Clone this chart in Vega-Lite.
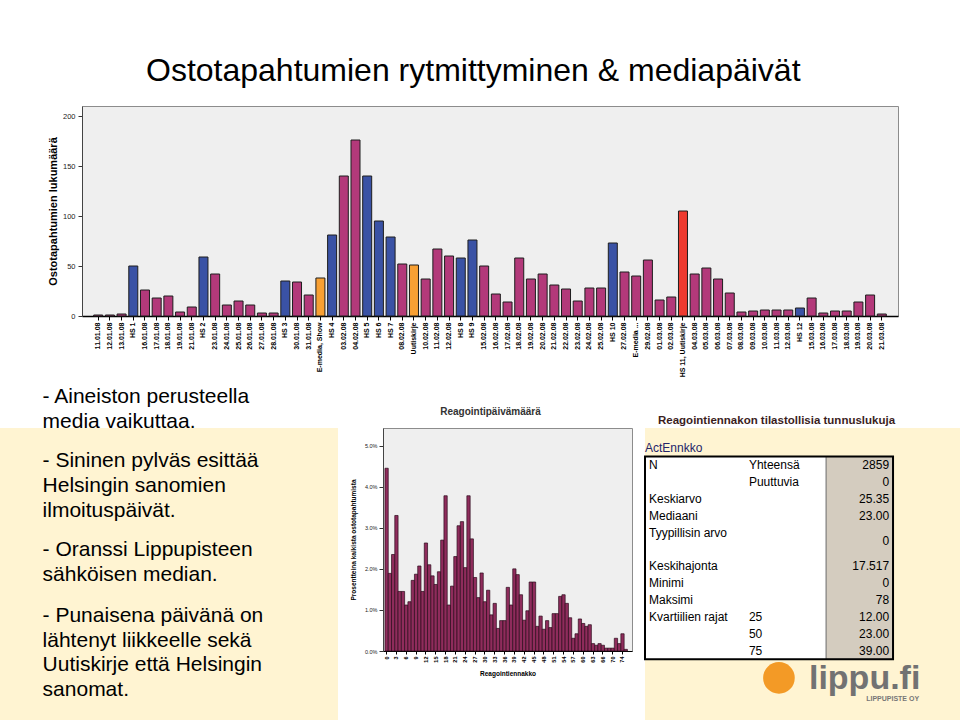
{
  "$schema": "https://vega.github.io/schema/vega-lite/v6.json",
  "background": "white",
  "padding": {"left": 0, "top": 54, "right": 0, "bottom": 0},
  "title": {"text": "Ostotapahtumien rytmittyminen & mediapäivät", "font": "Liberation Sans", "fontSize": 32, "fontWeight": "normal", "color": "#000000", "anchor": "start", "dx": 146, "offset": 18},
  "config": {"font": "Liberation Sans", "axis": {"grid": false}},
  "spacing": -34,
  "vconcat": [
    {
      "spacing": 45,
      "hconcat": [
        {
          "width": 1,
          "height": 1,
          "view": {"stroke": null},
          "data": {"values": []},
          "mark": {"type": "point", "opacity": 0},
          "encoding": {}
        },
        {
          "width": 816,
          "height": 210,
          "view": {"fill": "#efefef", "stroke": "#8c8c8c", "strokeWidth": 1},
          "data": {"values": [
            {"paiva": "11.01.08", "n": 1, "tyyppi": "Muu päivä"},
            {"paiva": "12.01.08", "n": 1, "tyyppi": "Muu päivä"},
            {"paiva": "13.01.08", "n": 2, "tyyppi": "Muu päivä"},
            {"paiva": "HS 1", "n": 50, "tyyppi": "Helsingin Sanomat"},
            {"paiva": "16.01.08", "n": 26, "tyyppi": "Muu päivä"},
            {"paiva": "17.01.08", "n": 18, "tyyppi": "Muu päivä"},
            {"paiva": "18.01.08", "n": 20, "tyyppi": "Muu päivä"},
            {"paiva": "19.01.08", "n": 4, "tyyppi": "Muu päivä"},
            {"paiva": "21.01.08", "n": 9, "tyyppi": "Muu päivä"},
            {"paiva": "HS 2", "n": 59, "tyyppi": "Helsingin Sanomat"},
            {"paiva": "23.01.08", "n": 42, "tyyppi": "Muu päivä"},
            {"paiva": "24.01.08", "n": 11, "tyyppi": "Muu päivä"},
            {"paiva": "25.01.08", "n": 15, "tyyppi": "Muu päivä"},
            {"paiva": "26.01.08", "n": 11, "tyyppi": "Muu päivä"},
            {"paiva": "27.01.08", "n": 3, "tyyppi": "Muu päivä"},
            {"paiva": "28.01.08", "n": 3, "tyyppi": "Muu päivä"},
            {"paiva": "HS 3", "n": 35, "tyyppi": "Helsingin Sanomat"},
            {"paiva": "30.01.08", "n": 34, "tyyppi": "Muu päivä"},
            {"paiva": "31.01.08", "n": 21, "tyyppi": "Muu päivä"},
            {"paiva": "E-media, Show", "n": 38, "tyyppi": "Lippupisteen sähköinen media"},
            {"paiva": "HS 4", "n": 81, "tyyppi": "Helsingin Sanomat"},
            {"paiva": "03.02.08", "n": 140, "tyyppi": "Muu päivä"},
            {"paiva": "04.02.08", "n": 176, "tyyppi": "Muu päivä"},
            {"paiva": "HS 5", "n": 140, "tyyppi": "Helsingin Sanomat"},
            {"paiva": "HS 6", "n": 95, "tyyppi": "Helsingin Sanomat"},
            {"paiva": "HS 7", "n": 79, "tyyppi": "Helsingin Sanomat"},
            {"paiva": "08.02.08", "n": 52, "tyyppi": "Muu päivä"},
            {"paiva": "Uutiskirje", "n": 51, "tyyppi": "Lippupisteen sähköinen media"},
            {"paiva": "10.02.08", "n": 37, "tyyppi": "Muu päivä"},
            {"paiva": "11.02.08", "n": 67, "tyyppi": "Muu päivä"},
            {"paiva": "12.02.08", "n": 60, "tyyppi": "Muu päivä"},
            {"paiva": "HS 8", "n": 58, "tyyppi": "Helsingin Sanomat"},
            {"paiva": "HS 9", "n": 76, "tyyppi": "Helsingin Sanomat"},
            {"paiva": "15.02.08", "n": 50, "tyyppi": "Muu päivä"},
            {"paiva": "16.02.08", "n": 22, "tyyppi": "Muu päivä"},
            {"paiva": "17.02.08", "n": 14, "tyyppi": "Muu päivä"},
            {"paiva": "18.02.08", "n": 58, "tyyppi": "Muu päivä"},
            {"paiva": "19.02.08", "n": 37, "tyyppi": "Muu päivä"},
            {"paiva": "20.02.08", "n": 42, "tyyppi": "Muu päivä"},
            {"paiva": "21.02.08", "n": 31, "tyyppi": "Muu päivä"},
            {"paiva": "22.02.08", "n": 27, "tyyppi": "Muu päivä"},
            {"paiva": "23.02.08", "n": 15, "tyyppi": "Muu päivä"},
            {"paiva": "24.02.08", "n": 28, "tyyppi": "Muu päivä"},
            {"paiva": "25.02.08", "n": 28, "tyyppi": "Muu päivä"},
            {"paiva": "HS 10", "n": 73, "tyyppi": "Helsingin Sanomat"},
            {"paiva": "27.02.08", "n": 44, "tyyppi": "Muu päivä"},
            {"paiva": "E-media ...", "n": 40, "tyyppi": "Muu päivä"},
            {"paiva": "29.02.08", "n": 56, "tyyppi": "Muu päivä"},
            {"paiva": "01.03.08", "n": 16, "tyyppi": "Muu päivä"},
            {"paiva": "02.03.08", "n": 19, "tyyppi": "Muu päivä"},
            {"paiva": "HS 11, Uutiskirje", "n": 105, "tyyppi": "Uutiskirje ja Helsingin Sanomat"},
            {"paiva": "04.03.08", "n": 42, "tyyppi": "Muu päivä"},
            {"paiva": "05.03.08", "n": 48, "tyyppi": "Muu päivä"},
            {"paiva": "06.03.08", "n": 37, "tyyppi": "Muu päivä"},
            {"paiva": "07.03.08", "n": 23, "tyyppi": "Muu päivä"},
            {"paiva": "08.03.08", "n": 4, "tyyppi": "Muu päivä"},
            {"paiva": "09.03.08", "n": 5, "tyyppi": "Muu päivä"},
            {"paiva": "10.03.08", "n": 6, "tyyppi": "Muu päivä"},
            {"paiva": "11.03.08", "n": 6, "tyyppi": "Muu päivä"},
            {"paiva": "12.03.08", "n": 6, "tyyppi": "Muu päivä"},
            {"paiva": "HS 12", "n": 8, "tyyppi": "Helsingin Sanomat"},
            {"paiva": "15.03.08", "n": 18, "tyyppi": "Muu päivä"},
            {"paiva": "16.03.08", "n": 3, "tyyppi": "Muu päivä"},
            {"paiva": "17.03.08", "n": 5, "tyyppi": "Muu päivä"},
            {"paiva": "18.03.08", "n": 5, "tyyppi": "Muu päivä"},
            {"paiva": "19.03.08", "n": 14, "tyyppi": "Muu päivä"},
            {"paiva": "20.03.08", "n": 21, "tyyppi": "Muu päivä"},
            {"paiva": "21.03.08", "n": 2, "tyyppi": "Muu päivä"}
          ]},
          "mark": {"type": "bar", "stroke": "#1e1e1e", "strokeWidth": 1},
          "encoding": {
            "x": {"field": "paiva", "type": "nominal", "sort": null, "title": "Reagointipäivämäärä",
              "scale": {"paddingInner": 0.23, "paddingOuter": 3.84},
              "axis": {"labelAngle": -90, "labelFont": "Liberation Sans", "labelFontSize": 7, "labelFontWeight": "bold", "labelColor": "#000000", "labelPadding": 2, "labelOverlap": false, "labelLimit": 0, "tickSize": 4, "tickColor": "#000000", "domainColor": "#000000", "domainWidth": 1.5, "titleFont": "Liberation Sans", "titleFontSize": 10, "titleFontWeight": "bold", "titleColor": "#333333", "titlePadding": 30}},
            "y": {"field": "n", "type": "quantitative", "title": "Ostotapahtumien lukumäärä",
              "scale": {"domain": [0, 210], "nice": false},
              "axis": {"values": [0, 50, 100, 150, 200], "labelFontSize": 7.5, "labelColor": "#222222", "labelPadding": 3, "tickSize": 4, "tickColor": "#333333", "domainColor": "#444444", "titleFont": "Liberation Sans", "titleFontSize": 11, "titleFontWeight": "bold", "titleColor": "#000000", "titlePadding": 4}},
            "color": {"field": "tyyppi", "type": "nominal", "legend": null,
              "scale": {"domain": ["Helsingin Sanomat", "Lippupisteen sähköinen media", "Uutiskirje ja Helsingin Sanomat", "Muu päivä"], "range": ["#3a52a5", "#f8a033", "#ee3a2f", "#b3397a"]}}
          }
        }
      ]
    },
    {
      "spacing": 11,
      "hconcat": [
        {
          "width": 338,
          "height": 292,
          "view": {"fill": "#fff4d2", "stroke": null},
          "data": {"values": [
            {"rivi": 1, "kappale": 1, "teksti": "- Aineiston perusteella"},
            {"rivi": 2, "kappale": 1, "teksti": "media vaikuttaa."},
            {"rivi": 3, "kappale": 2, "teksti": "- Sininen pylväs esittää"},
            {"rivi": 4, "kappale": 2, "teksti": "Helsingin sanomien"},
            {"rivi": 5, "kappale": 2, "teksti": "ilmoituspäivät."},
            {"rivi": 6, "kappale": 3, "teksti": "- Oranssi Lippupisteen"},
            {"rivi": 7, "kappale": 3, "teksti": "sähköisen median."},
            {"rivi": 8, "kappale": 4, "teksti": "- Punaisena päivänä on"},
            {"rivi": 9, "kappale": 4, "teksti": "lähtenyt liikkeelle sekä"},
            {"rivi": 10, "kappale": 4, "teksti": "Uutiskirje että Helsingin"},
            {"rivi": 11, "kappale": 4, "teksti": "sanomat."}
          ]},
          "encoding": {
            "x": {"datum": 0.126, "type": "quantitative", "scale": {"domain": [0, 1]}, "axis": null},
            "y": {"field": "rivi", "type": "quantitative", "scale": {"domain": [2.004, 13.874], "reverse": true, "nice": false, "zero": false}, "axis": null}
          },
          "layer": [
            {"transform": [{"filter": "datum.kappale == 1"}], "mark": {"type": "text", "align": "left", "baseline": "alphabetic", "font": "Liberation Sans", "fontSize": 21, "color": "#000000"}, "encoding": {"text": {"field": "teksti"}}},
            {"transform": [{"filter": "datum.kappale == 2"}], "mark": {"type": "text", "align": "left", "baseline": "alphabetic", "font": "Liberation Sans", "fontSize": 21, "color": "#000000", "dy": 14.8}, "encoding": {"text": {"field": "teksti"}}},
            {"transform": [{"filter": "datum.kappale == 3"}], "mark": {"type": "text", "align": "left", "baseline": "alphabetic", "font": "Liberation Sans", "fontSize": 21, "color": "#000000", "dy": 29.6}, "encoding": {"text": {"field": "teksti"}}},
            {"transform": [{"filter": "datum.kappale == 4"}], "mark": {"type": "text", "align": "left", "baseline": "alphabetic", "font": "Liberation Sans", "fontSize": 21, "color": "#000000", "dy": 46.4}, "encoding": {"text": {"field": "teksti"}}},
            {
              "data": {"values": [{"alleviivaus": "vaikuttaa"}]},
              "mark": {"type": "rule", "color": "#000000", "strokeWidth": 1.3},
              "encoding": {"x": {"datum": 0.316, "type": "quantitative"}, "x2": {"datum": 0.562}, "y": {"datum": 2.085, "type": "quantitative"}}
            }
          ]
        },
        {
          "width": 249,
          "height": 223,
          "view": {"fill": "#efefef", "stroke": "#8c8c8c", "strokeWidth": 1},
          "data": {"values": [
            {"ennakko": 0, "prosentti": 4.45}, {"ennakko": 1, "prosentti": 1.89}, {"ennakko": 2, "prosentti": 2.35},
            {"ennakko": 3, "prosentti": 3.3}, {"ennakko": 4, "prosentti": 1.45}, {"ennakko": 5, "prosentti": 1.45},
            {"ennakko": 6, "prosentti": 1.12}, {"ennakko": 7, "prosentti": 1.2}, {"ennakko": 8, "prosentti": 1.72},
            {"ennakko": 9, "prosentti": 1.87}, {"ennakko": 10, "prosentti": 2.07}, {"ennakko": 11, "prosentti": 1.45},
            {"ennakko": 12, "prosentti": 2.63}, {"ennakko": 13, "prosentti": 2.1}, {"ennakko": 14, "prosentti": 1.83},
            {"ennakko": 15, "prosentti": 1.62}, {"ennakko": 16, "prosentti": 1.93}, {"ennakko": 17, "prosentti": 2.7},
            {"ennakko": 18, "prosentti": 3.78}, {"ennakko": 19, "prosentti": 1.12}, {"ennakko": 20, "prosentti": 1.58},
            {"ennakko": 21, "prosentti": 2.3}, {"ennakko": 22, "prosentti": 3.05}, {"ennakko": 23, "prosentti": 3.15},
            {"ennakko": 24, "prosentti": 2.03}, {"ennakko": 25, "prosentti": 3.78}, {"ennakko": 26, "prosentti": 2.73},
            {"ennakko": 27, "prosentti": 1.79}, {"ennakko": 28, "prosentti": 1.3}, {"ennakko": 29, "prosentti": 1.9},
            {"ennakko": 30, "prosentti": 1.2}, {"ennakko": 31, "prosentti": 1.48}, {"ennakko": 32, "prosentti": 0.88},
            {"ennakko": 33, "prosentti": 1.16}, {"ennakko": 34, "prosentti": 0.55}, {"ennakko": 35, "prosentti": 0.74},
            {"ennakko": 36, "prosentti": 0.74}, {"ennakko": 37, "prosentti": 1.55}, {"ennakko": 38, "prosentti": 1.12},
            {"ennakko": 39, "prosentti": 2.0}, {"ennakko": 40, "prosentti": 1.86}, {"ennakko": 41, "prosentti": 1.37},
            {"ennakko": 42, "prosentti": 0.75}, {"ennakko": 43, "prosentti": 0.98}, {"ennakko": 44, "prosentti": 1.68},
            {"ennakko": 45, "prosentti": 1.68}, {"ennakko": 46, "prosentti": 0.6}, {"ennakko": 47, "prosentti": 0.85},
            {"ennakko": 48, "prosentti": 0.53}, {"ennakko": 49, "prosentti": 0.74}, {"ennakko": 50, "prosentti": 0.57},
            {"ennakko": 51, "prosentti": 0.91}, {"ennakko": 52, "prosentti": 0.91}, {"ennakko": 53, "prosentti": 1.33},
            {"ennakko": 54, "prosentti": 1.37}, {"ennakko": 55, "prosentti": 1.16}, {"ennakko": 56, "prosentti": 0.81},
            {"ennakko": 57, "prosentti": 0.31}, {"ennakko": 58, "prosentti": 0.42}, {"ennakko": 59, "prosentti": 0.78},
            {"ennakko": 60, "prosentti": 0.67}, {"ennakko": 61, "prosentti": 0.6}, {"ennakko": 62, "prosentti": 0.64},
            {"ennakko": 63, "prosentti": 0.18}, {"ennakko": 64, "prosentti": 0.14}, {"ennakko": 65, "prosentti": 0.18},
            {"ennakko": 66, "prosentti": 0.14}, {"ennakko": 67, "prosentti": 0.07}, {"ennakko": 68, "prosentti": 0.07},
            {"ennakko": 70, "prosentti": 0.07}, {"ennakko": 71, "prosentti": 0.31}, {"ennakko": 72, "prosentti": 0.18},
            {"ennakko": 74, "prosentti": 0.42}, {"ennakko": 78, "prosentti": 0.04}
          ]},
          "mark": {"type": "bar", "fill": "#8f2c5c", "stroke": "#2b0b1b", "strokeWidth": 0.7},
          "encoding": {
            "x": {"field": "ennakko", "type": "ordinal", "title": "Reagointiennakko",
              "scale": {"paddingInner": 0, "paddingOuter": 2.5, "align": 0.3},
              "axis": {"values": [0, 3, 6, 9, 12, 15, 18, 21, 24, 27, 30, 33, 36, 39, 42, 45, 48, 51, 54, 57, 60, 63, 66, 70, 74], "labelAngle": -90, "labelFontSize": 5.5, "labelFontWeight": "bold", "labelColor": "#000000", "labelPadding": 2, "tickSize": 3, "tickColor": "#000000", "domainColor": "#000000", "titleFontSize": 6.5, "titleFontWeight": "bold", "titleColor": "#000000", "titlePadding": 8}},
            "y": {"field": "prosentti", "type": "quantitative", "title": "Prosentteina kaikista ostotapahtumista",
              "scale": {"domain": [0, 5.43], "nice": false},
              "axis": {"values": [0, 1, 2, 3, 4, 5], "labelExpr": "format(datum.value, '.1f') + '%'", "labelFontSize": 5.5, "labelColor": "#222222", "labelPadding": 2, "tickSize": 4, "tickColor": "#333333", "domainColor": "#444444", "titleFontSize": 6.5, "titleFontWeight": "bold", "titleColor": "#000000", "titlePadding": 8}}
          }
        },
        {
          "width": 316,
          "height": 292,
          "title": {"text": [" ", "Reagointiennakon tilastollisia tunnuslukuja"], "lineHeight": 30, "font": "Liberation Sans", "fontSize": 11.5, "fontWeight": "bold", "color": "#3b1e1e", "anchor": "start", "dx": 14, "offset": 2},
          "view": {"fill": "#fff4d2", "stroke": null},
          "data": {"values": [
            {"r": 0, "sarake": "otsikko", "t": "ActEnnkko"},
            {"r": 1, "sarake": "nimi", "t": "N"},
            {"r": 1, "sarake": "ala", "t": "Yhteensä"},
            {"r": 1, "sarake": "arvo", "t": "2859"},
            {"r": 2, "sarake": "ala", "t": "Puuttuvia"},
            {"r": 2, "sarake": "arvo", "t": "0"},
            {"r": 3, "sarake": "nimi", "t": "Keskiarvo"},
            {"r": 3, "sarake": "arvo", "t": "25.35"},
            {"r": 4, "sarake": "nimi", "t": "Mediaani"},
            {"r": 4, "sarake": "arvo", "t": "23.00"},
            {"r": 5, "sarake": "nimi", "t": "Tyypillisin arvo"},
            {"r": 5.5, "sarake": "arvo", "t": "0"},
            {"r": 7, "sarake": "nimi", "t": "Keskihajonta"},
            {"r": 7, "sarake": "arvo", "t": "17.517"},
            {"r": 8, "sarake": "nimi", "t": "Minimi"},
            {"r": 8, "sarake": "arvo", "t": "0"},
            {"r": 9, "sarake": "nimi", "t": "Maksimi"},
            {"r": 9, "sarake": "arvo", "t": "78"},
            {"r": 10, "sarake": "nimi", "t": "Kvartiilien rajat"},
            {"r": 10, "sarake": "ala", "t": "25"},
            {"r": 10, "sarake": "arvo", "t": "12.00"},
            {"r": 11, "sarake": "ala", "t": "50"},
            {"r": 11, "sarake": "arvo", "t": "23.00"},
            {"r": 12, "sarake": "ala", "t": "75"},
            {"r": 12, "sarake": "arvo", "t": "39.00"}
          ]},
          "layer": [
            {
              "data": {"values": [{"logo": "ympyrä"}]},
              "mark": {"type": "point", "filled": true, "fill": "#f39a26", "opacity": 1, "size": 1000},
              "encoding": {
                "x": {"datum": 54, "type": "quantitative", "scale": {"domain": [0, 127.4], "nice": false, "zero": false}, "axis": null},
                "y": {"datum": 13.6, "type": "quantitative", "scale": {"domain": [-1.189, 16.089], "reverse": true, "nice": false, "zero": false}, "axis": null}
              }
            },
            {
              "data": {"values": [{"t": "lippu.fi"}]},
              "mark": {"type": "text", "font": "Liberation Sans", "fontWeight": "bold", "fontSize": 34, "color": "#727272", "align": "left", "baseline": "alphabetic"},
              "encoding": {"x": {"datum": 66.1, "type": "quantitative"}, "y": {"datum": 14.25, "type": "quantitative"}, "text": {"field": "t"}}
            },
            {
              "data": {"values": [{"t": "LIPPUPISTE OY"}]},
              "mark": {"type": "text", "font": "Liberation Sans", "fontWeight": "bold", "fontSize": 7, "letterSpacing": 0.5, "color": "#777777", "align": "right", "baseline": "middle"},
              "encoding": {"x": {"datum": 110.5, "type": "quantitative"}, "y": {"datum": 14.85, "type": "quantitative"}, "text": {"field": "t"}}
            },
            {
              "data": {"values": [{"osa": "taulukko"}]},
              "mark": {"type": "rect", "fill": "#ffffff"},
              "encoding": {"x": {"datum": 0, "type": "quantitative"}, "x2": {"datum": 100}, "y": {"datum": 0.5, "type": "quantitative"}, "y2": {"datum": 12.5}}
            },
            {
              "data": {"values": [{"osa": "arvosarake"}]},
              "mark": {"type": "rect", "fill": "#d4ccbf", "stroke": "#6a6a6a", "strokeWidth": 1},
              "encoding": {"x": {"datum": 73, "type": "quantitative"}, "x2": {"datum": 100}, "y": {"datum": 0.5, "type": "quantitative"}, "y2": {"datum": 12.5}}
            },
            {
              "data": {"values": [{"osa": "reunus"}]},
              "mark": {"type": "rect", "fill": null, "fillOpacity": 0, "stroke": "#000000", "strokeWidth": 2},
              "encoding": {"x": {"datum": 0, "type": "quantitative"}, "x2": {"datum": 100}, "y": {"datum": 0.5, "type": "quantitative"}, "y2": {"datum": 12.5}}
            },
            {
              "transform": [{"filter": "datum.sarake == 'otsikko'"}],
              "mark": {"type": "text", "font": "Liberation Sans", "fontSize": 12, "color": "#24246a", "align": "left", "baseline": "middle"},
              "encoding": {"x": {"datum": 0, "type": "quantitative"}, "y": {"field": "r", "type": "quantitative"}, "text": {"field": "t"}}
            },
            {
              "transform": [{"filter": "datum.sarake == 'nimi'"}],
              "mark": {"type": "text", "font": "Liberation Sans", "fontSize": 12, "color": "#000000", "align": "left", "baseline": "middle"},
              "encoding": {"x": {"datum": 1.6, "type": "quantitative"}, "y": {"field": "r", "type": "quantitative"}, "text": {"field": "t"}}
            },
            {
              "transform": [{"filter": "datum.sarake == 'ala'"}],
              "mark": {"type": "text", "font": "Liberation Sans", "fontSize": 12, "color": "#000000", "align": "left", "baseline": "middle"},
              "encoding": {"x": {"datum": 41.9, "type": "quantitative"}, "y": {"field": "r", "type": "quantitative"}, "text": {"field": "t"}}
            },
            {
              "transform": [{"filter": "datum.sarake == 'arvo'"}],
              "mark": {"type": "text", "font": "Liberation Sans", "fontSize": 12, "color": "#000000", "align": "right", "baseline": "middle"},
              "encoding": {"x": {"datum": 98.4, "type": "quantitative"}, "y": {"field": "r", "type": "quantitative"}, "text": {"field": "t"}}
            }
          ]
        }
      ]
    }
  ]
}
